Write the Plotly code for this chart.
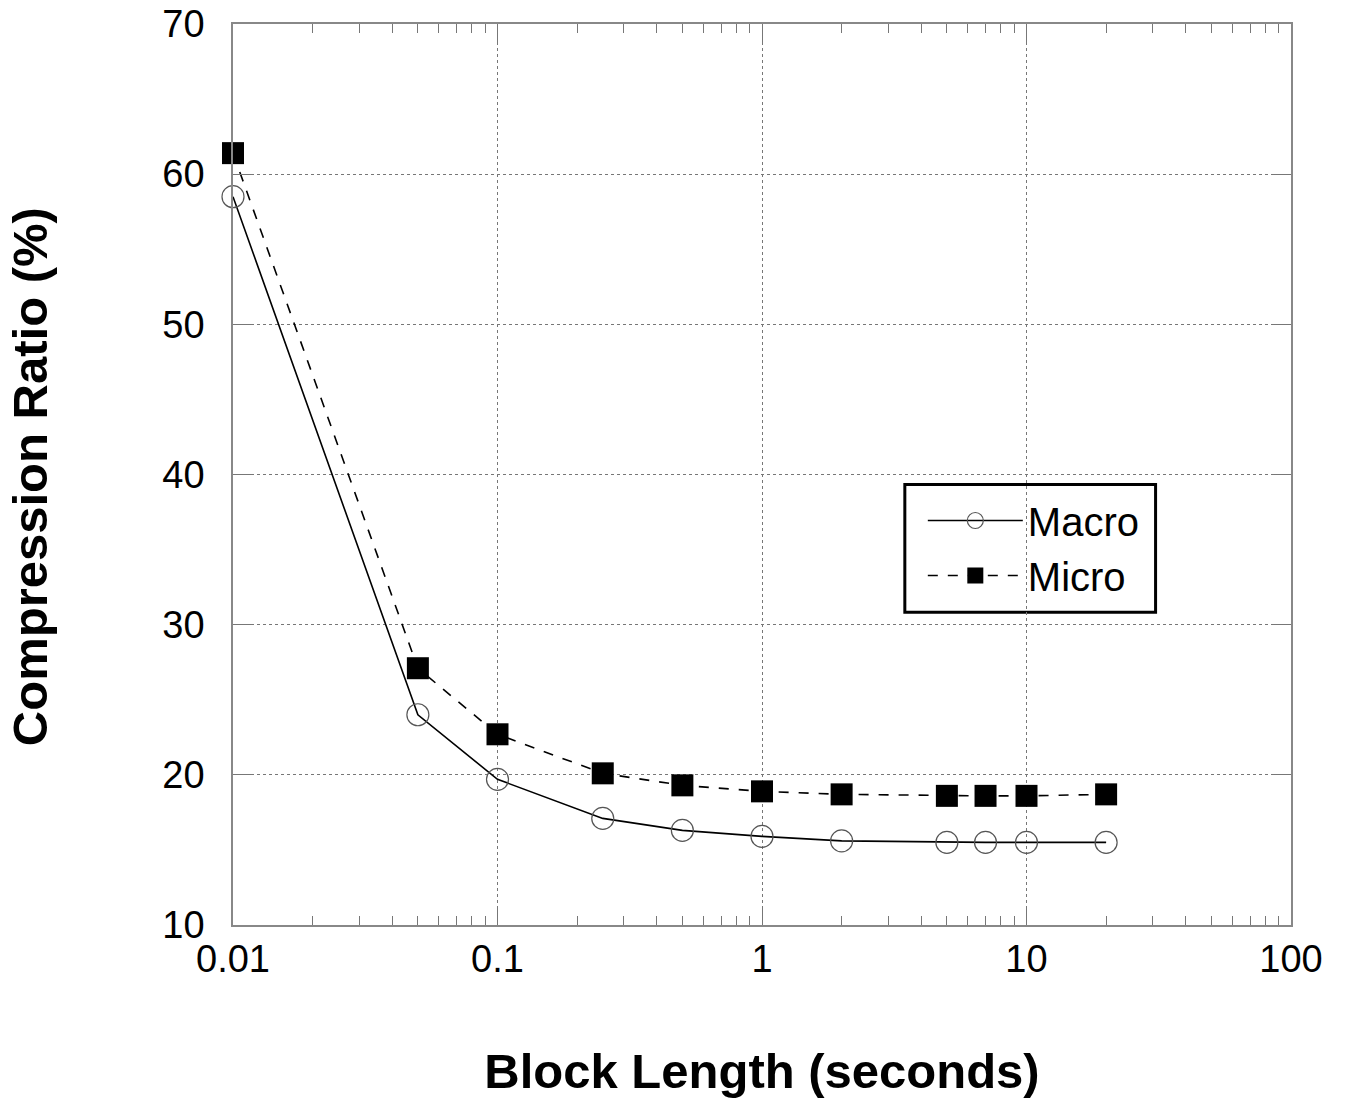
import plotly.graph_objects as go

block_length = [0.01, 0.05, 0.1, 0.25, 0.5, 1, 2, 5, 7, 10, 20]
macro = [58.5, 24.0, 19.7, 17.1, 16.3, 15.9, 15.6, 15.5, 15.5, 15.5, 15.5]
micro = [61.4, 27.1, 22.7, 20.1, 19.3, 18.9, 18.7, 18.6, 18.6, 18.6, 18.7]

x_ticks = [0.01, 0.1, 1, 10, 100]
x_tick_labels = ["0.01", "0.1", "1", "10", "100"]
y_ticks = [10, 20, 30, 40, 50, 60, 70]

FONT = "Liberation Sans, Arial, sans-serif"

fig = go.Figure()
fig.add_trace(go.Scatter(
    x=block_length, y=macro, name="Macro", mode="lines+markers",
    line=dict(color="black", width=1.6),
    marker=dict(symbol="circle-open", size=22, color="#555555", line=dict(width=1.2)),
    cliponaxis=False,
))
fig.add_trace(go.Scatter(
    x=block_length, y=micro, name="Micro", mode="lines+markers",
    line=dict(color="black", width=1.6, dash="10px,10px"),
    marker=dict(symbol="square", size=22, color="black"),
    cliponaxis=False,
))

fig.update_layout(
    width=1345, height=1101,
    margin=dict(l=225, r=62, t=16, b=184),
    paper_bgcolor="white", plot_bgcolor="white",
    font=dict(family=FONT, color="black"),
    showlegend=True,
    legend=dict(
        x=0.652, y=0.485, xanchor="left", yanchor="top",
        borderwidth=0, bgcolor="rgba(0,0,0,0)",
        font=dict(size=40, family=FONT), itemwidth=95,
        tracegroupgap=0,
    ),
    shapes=[dict(
        type="rect", xref="paper", yref="paper",
        x0=0.635, x1=0.872, y0=0.347, y1=0.489,
        line=dict(color="black", width=3), fillcolor="white", layer="below",
    )],
    annotations=[dict(
        text="<b>Compression Ratio (%)</b>", xref="paper", yref="paper",
        x=-0.192, y=0.498, xanchor="center", yanchor="middle",
        textangle=-90, showarrow=False, font=dict(size=49, family=FONT),
    )],
)
fig.update_xaxes(
    type="log", range=[-2, 2], automargin=False,
    tickvals=x_ticks, ticktext=x_tick_labels,
    tickfont=dict(size=38), ticks="inside", ticklen=18, tickcolor="#777777",
    ticklabelstandoff=0, ticklabeloverflow="allow",
    showline=True, linecolor="#888888", linewidth=1.5, mirror="allticks",
    showgrid=True, gridcolor="#777777", griddash="dot", gridwidth=1,
    minor=dict(ticks="inside", ticklen=9, tickcolor="#777777", showgrid=False,
               tickvals=[v * m for v in [0.01, 0.1, 1, 10] for m in range(2, 10)]),
    title=dict(text="<b>Block Length (seconds)</b>", font=dict(size=49), standoff=74),
    zeroline=False,
)
fig.update_yaxes(
    range=[10, 70], tickvals=y_ticks, automargin=False,
    tickfont=dict(size=38), ticks="inside", ticklen=18, tickcolor="#777777",
    ticklabelstandoff=19, ticklabeloverflow="allow",
    showline=True, linecolor="#888888", linewidth=1.5, mirror="allticks",
    showgrid=True, gridcolor="#777777", griddash="dot", gridwidth=1,
    zeroline=False,
)

fig.write_html("out.html")
